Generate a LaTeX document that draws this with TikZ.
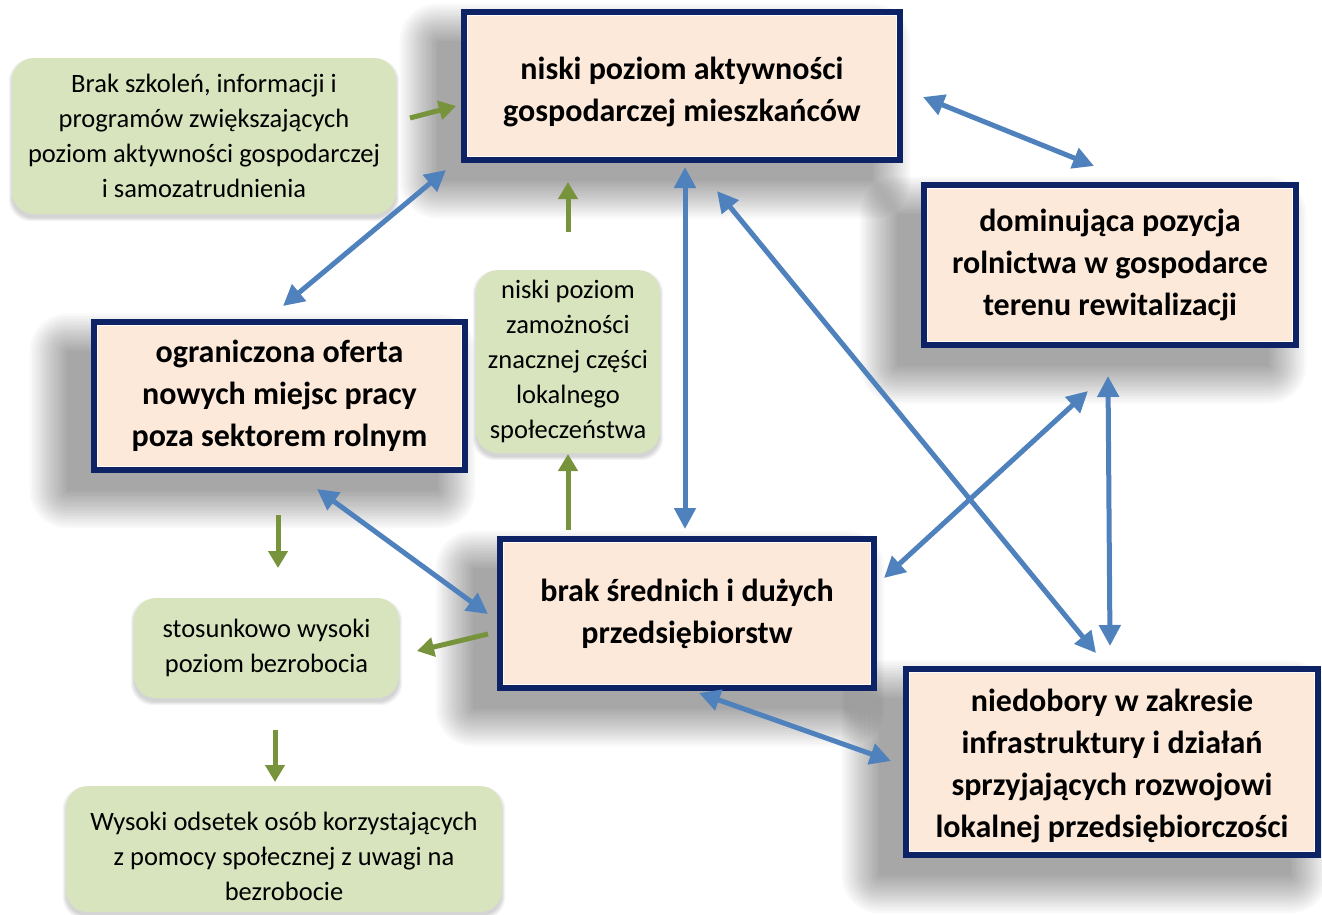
\documentclass[tikz,border=0pt]{standalone}
\usepackage{fontspec}
\setmainfont{Carlito}
\usetikzlibrary{arrows.meta,calc}
\pgfdeclarelayer{background}
\pgfsetlayers{background,main}
\definecolor{navy}{RGB}{14,34,102}
\definecolor{peach}{RGB}{253,233,217}
\definecolor{sage}{RGB}{216,228,190}
\definecolor{blu}{RGB}{79,129,189}
\definecolor{grn}{RGB}{119,147,60}
\tikzset{
  obox/.style={draw=navy, line width=5.6pt, fill=peach, align=center, inner sep=0pt,
    font=\fontsize{32}{42}\selectfont\bfseries},
  gbox/.style={fill=sage, rounded corners=22pt, align=center, inner sep=0pt,
    font=\fontsize{26.5}{35}\selectfont},
  barrow/.style={draw=blu, line width=5pt, {Triangle[length=21pt,width=21pt]}-{Triangle[length=21pt,width=21pt]}},
  garrow/.style={draw=grn, line width=5pt, -{Triangle[length=17pt,width=19pt]}},
  bevel/.style={draw=white, line width=1.5pt, opacity=0.85},
}
\newcommand{\boxshadow}[1]{%
  \foreach \k in {0,...,15} {
    \fill[black, opacity=0.024, rounded corners=2.5*\k pt]
      ($(#1.north west)+(-24-2.5*\k, 32-2.5*\k)$) rectangle ($(#1.south east)+(-30+2.5*\k, 18+2.5*\k)$);
  }}
\newcommand{\gshadow}[1]{%
  \foreach \k in {0,...,3} {
    \fill[black, opacity=0.045, rounded corners=22pt]
      ($(#1.north west)+(-\k, 4-\k)$) rectangle ($(#1.south east)+(\k, 4+\k)$);
  }}
\newcommand{\bev}[1]{\draw[bevel] ($(#1.north west)+(6.4,6.4)$) rectangle ($(#1.south east)+(-6.4,-6.4)$);}
\begin{document}
\begin{tikzpicture}[x=1pt,y=-1pt]
\useasboundingbox (0,0) rectangle (1322,914);
% orange boxes
\node[obox, minimum width=436pt, minimum height=148pt] (top) at (682,86) {\rule{0pt}{34pt}niski poziom aktywności\\gospodarczej mieszkańców};
\node[obox, minimum width=372pt, minimum height=160pt] (rol) at (1110,265) {dominująca pozycja\\rolnictwa w gospodarce\\terenu rewitalizacji};
\node[obox, minimum width=371pt, minimum height=148pt] (ofe) at (279.5,396) {ograniczona oferta\\nowych miejsc pracy\\poza sektorem rolnym};
\node[obox, minimum width=374pt, minimum height=149pt] (bra) at (687,613.5) {brak średnich i dużych\\przedsiębiorstw};
\node[obox, minimum width=412pt, minimum height=186pt] (nie) at (1112,762) {\rule{0pt}{30pt}niedobory w zakresie\\infrastruktury i działań\\sprzyjających rozwojowi\\lokalnej przedsiębiorczości};
\bev{top}\bev{rol}\bev{ofe}\bev{bra}\bev{nie}
% green boxes
\node[gbox, minimum width=384pt, minimum height=156pt] (szk) at (204,136) {Brak szkoleń, informacji i\\programów zwiększających\\poziom aktywności gospodarczej\\i samozatrudnienia};
\node[gbox, minimum width=184pt, minimum height=183pt] (zam) at (568,361.5) {niski poziom\\zamożności\\znacznej części\\lokalnego\\społeczeństwa};
\node[gbox, minimum width=265pt, minimum height=100pt] (bez) at (266.5,648) {stosunkowo wysoki\\poziom bezrobocia};
\node[gbox, minimum width=436pt, minimum height=126pt] (wys) at (284,849) {\rule{0pt}{33pt}Wysoki odsetek osób korzystających\\z pomocy społecznej z uwagi na\\bezrobocie};
% shadows
\begin{pgfonlayer}{background}
\fill[white] (0,0) rectangle (1322,914);
\boxshadow{top}\boxshadow{rol}\boxshadow{ofe}\boxshadow{bra}\boxshadow{nie}
\gshadow{szk}\gshadow{zam}\gshadow{bez}\gshadow{wys}
\end{pgfonlayer}
% connector end points
\coordinate (b1a) at (923,97);   \coordinate (b1b) at (1094,166);
\coordinate (b2a) at (446,170);  \coordinate (b2b) at (283,306);
\coordinate (b3a) at (685,167);  \coordinate (b3b) at (685,529);
\coordinate (b4a) at (717,191);  \coordinate (b4b) at (1096,653);
\coordinate (b5a) at (1088,391); \coordinate (b5b) at (884,578);
\coordinate (b6a) at (1108,376); \coordinate (b6b) at (1110,646);
\coordinate (b7a) at (317,489);  \coordinate (b7b) at (488,614);
\coordinate (b8a) at (699,693);  \coordinate (b8b) at (891,761);
\coordinate (g1a) at (410,118);  \coordinate (g1b) at (456,106);
\coordinate (g2a) at (568,232);  \coordinate (g2b) at (568,182);
\coordinate (g3a) at (568,530);  \coordinate (g3b) at (568,454);
\coordinate (g4a) at (278,515);  \coordinate (g4b) at (278,568);
\coordinate (g5a) at (488,634);  \coordinate (g5b) at (417,651);
\coordinate (g6a) at (275,730);  \coordinate (g6b) at (275,782);
% blue connectors
\draw[barrow] (b1a) -- (b1b);
\draw[barrow] (b2a) -- (b2b);
\draw[barrow] (b3a) -- (b3b);
\draw[barrow] (b4a) -- (b4b);
\draw[barrow] (b5a) -- (b5b);
\draw[barrow] (b6a) -- (b6b);
\draw[barrow] (b7a) -- (b7b);
\draw[barrow] (b8a) -- (b8b);
% green connectors
\draw[garrow] (g1a) -- (g1b);
\draw[garrow] (g2a) -- (g2b);
\draw[garrow] (g3a) -- (g3b);
\draw[garrow] (g4a) -- (g4b);
\draw[garrow] (g5a) -- (g5b);
\draw[garrow] (g6a) -- (g6b);
\end{tikzpicture}
\end{document}
